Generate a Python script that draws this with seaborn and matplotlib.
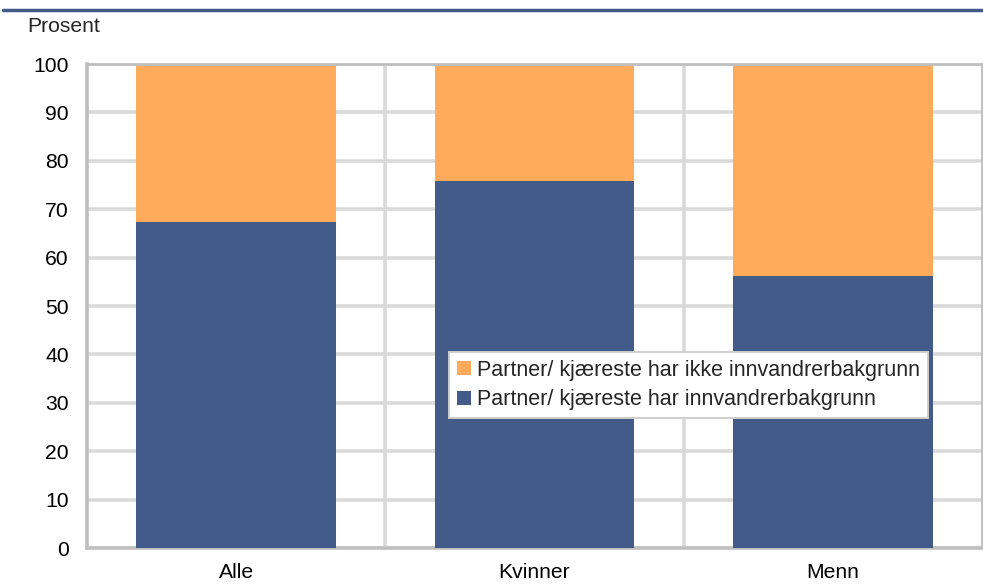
import matplotlib
matplotlib.use("Agg")
import matplotlib.pyplot as plt
import seaborn as sns
import pandas as pd
from matplotlib.patches import Patch
from matplotlib.lines import Line2D

categories = ["Alle", "Kvinner", "Menn"]
with_background = [67.4, 75.9, 56.2]        # Partner/ kjæreste har innvandrerbakgrunn
without_background = [32.6, 24.1, 43.8]     # Partner/ kjæreste har ikke innvandrerbakgrunn
y_ticks = [0, 10, 20, 30, 40, 50, 60, 70, 80, 90, 100]
label_with = "Partner/ kjæreste har innvandrerbakgrunn"
label_without = "Partner/ kjæreste har ikke innvandrerbakgrunn"

blue = "#425b89"
orange = "#ffab5b"
grid_col = "#d9d9d9"
spine_col = "#bfbfbf"
fs = 15.2
legend_fs = 15.5

sns.set_theme(style="white")
plt.rcParams["font.family"] = ["Liberation Sans", "DejaVu Sans"]

df = pd.DataFrame({
    "kategori": categories,
    "inn": with_background,
    "total": [a + b for a, b in zip(with_background, without_background)],
})

fig = plt.figure(figsize=(9.83, 5.86), dpi=100)
ax = fig.add_axes([87 / 983, 1 - 548 / 586, (982 - 87) / 983, (548 - 64) / 586])

# grid first, bars on top
for v in y_ticks:
    ax.axhline(v, color=grid_col, lw=2.6, zorder=0)
for xv in [0.5, 1.5]:
    ax.axvline(xv, color=grid_col, lw=2.6, zorder=0)

sns.barplot(data=df, x="kategori", y="total", color=orange, width=0.67,
            saturation=1, ax=ax, zorder=2, linewidth=0)
sns.barplot(data=df, x="kategori", y="inn", color=blue, width=0.67,
            saturation=1, ax=ax, zorder=3, linewidth=0)

ax.set_xlim(-0.5, 2.5)
ax.set_ylim(0, 100)
ax.set_yticks(y_ticks)
ax.set_yticklabels([str(t) for t in y_ticks], fontsize=fs, color="black")
ax.set_xticks(range(len(categories)))
ax.set_xticklabels(categories, fontsize=fs, color="black")
ax.tick_params(axis="both", length=0)
ax.tick_params(axis="x", pad=11)
ax.tick_params(axis="y", pad=13)
ax.set_xlabel("")
ax.set_ylabel("")

for side in ["left", "bottom", "top", "right"]:
    ax.spines[side].set_visible(True)
    ax.spines[side].set_color(spine_col)
    ax.spines[side].set_linewidth(2.6)
ax.spines["top"].set_linewidth(2.0)
ax.spines["right"].set_linewidth(2.0)

handles = [Patch(facecolor=orange, edgecolor="none", label=label_without),
           Patch(facecolor=blue, edgecolor="none", label=label_with)]
leg = ax.legend(handles=handles, loc="upper left",
                bbox_to_anchor=((449 - 87) / (982 - 87), 1 - (352 - 64) / (548 - 64)),
                frameon=True, fancybox=False, framealpha=1, fontsize=legend_fs,
                handlelength=0.64, handleheight=0.64, handletextpad=0.3,
                borderpad=0.36, labelspacing=0.4, borderaxespad=0)
leg.get_frame().set_edgecolor("#cfcfcf")
leg.get_frame().set_linewidth(1.4)
leg.set_zorder(5)

fig.text(27 / 983, 1 - 26 / 586, "Prosent", fontsize=fs, va="center", ha="left")

# header rule
fig.add_artist(Line2D([3 / 983, 1.0], [1 - 10 / 586, 1 - 10 / 586],
                      transform=fig.transFigure, color="#435b8a", lw=2.5))

fig.savefig("out.png", dpi=100)
